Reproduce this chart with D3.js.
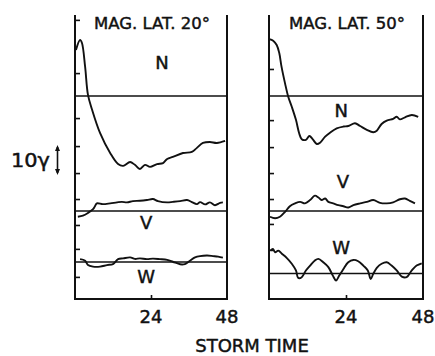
<!DOCTYPE html>
<html><head><meta charset="utf-8">
<script src="https://cdn.jsdelivr.net/npm/d3@7"></script>
<style>body{margin:0;background:#fff}svg{display:block}text{font-family:"DejaVu Sans",sans-serif;fill:#111;stroke:#111;stroke-width:0.45px}</style>
</head><body><svg id="c" width="435" height="356"></svg>
<script>
// storm time (hours) and deviation from the component's zero line (gamma)
const titles = ["MAG. LAT. 20°", "MAG. LAT. 50°"];
const components = ["N", "V", "W"];
const timeTicks = [24, 48];
const leftN = [[0.3,17.9],[1.6,21.8],[2.2,20.6],[3.2,11.3],[4.1,0.4],[5.4,-5.4],[7.9,-14.4],[11.1,-22.2],[13.6,-26.5],[15.2,-27.2],[17.4,-25.7],[18.9,-26.8],[20.5,-28.4],[22.1,-26.8],[23.7,-27.6],[25.9,-26.5],[27.8,-26.1],[29.1,-24.5],[30.9,-23.7],[34.1,-22.2],[36.9,-21.8],[38.5,-20.2],[40.4,-18.3],[42.6,-17.9],[44.8,-18.3],[47.4,-17.5]];
const leftV = [[0.9,-2.2],[2.5,-1.8],[4.1,-0.7],[5.7,0.8],[6.3,1.9],[6.9,3.0],[8.8,2.7],[11.1,3.0],[13.3,3.4],[14.8,3.6],[16.4,3.4],[18.3,3.9],[20.5,4.0],[22.7,4.3],[24.6,4.7],[26.2,3.9],[29.1,3.4],[30.9,3.6],[33.2,3.9],[35.4,4.3],[36.9,3.5],[38.5,2.7],[39.5,3.5],[41.1,2.6],[42.6,3.4],[44.2,2.3],[45.8,3.2],[46.7,3.4]];
const leftW = [[1.6,1.1],[3.2,0.5],[4.1,-1.2],[5.7,-1.8],[7.9,-1.8],[10.1,-1.2],[12.0,-0.8],[13.6,1.1],[15.2,1.4],[17.4,1.8],[18.9,1.2],[20.5,1.4],[22.7,1.1],[24.6,1.3],[26.8,1.1],[29.1,0.8],[30.9,0.1],[33.2,-0.9],[34.7,-0.8],[36.3,0.5],[37.9,1.8],[39.5,2.3],[41.7,2.5],[43.6,2.3],[45.2,2.1],[46.7,1.7]];
const rightN = [[0.1,22.1],[1.3,21.5],[2.4,19.8],[3.2,16.7],[3.9,11.4],[5.0,4.9],[6.0,-0.3],[7.1,-4.2],[8.4,-9.3],[9.4,-14.5],[10.2,-16.8],[11.5,-17.1],[12.6,-15.6],[13.6,-16.8],[14.9,-18.7],[15.9,-18.2],[17.5,-15.8],[19.0,-14.3],[21.1,-12.6],[23.2,-11.9],[24.7,-11.7],[26.8,-10.6],[28.4,-11.7],[30.5,-13.2],[32.5,-14.1],[33.6,-13.5],[35.1,-10.9],[36.7,-9.6],[38.7,-8.9],[39.8,-8.1],[40.8,-9.1],[42.4,-8.3],[44.5,-7.4],[46.5,-8.1]];
const rightV = [[0.3,-2.2],[1.9,-2.8],[3.4,-2.2],[5.0,-0.3],[6.5,1.9],[8.1,3.0],[9.7,3.6],[11.2,3.0],[12.8,4.3],[14.3,6.0],[15.4,5.3],[16.4,4.3],[17.5,4.9],[18.5,3.6],[20.0,3.0],[21.6,2.3],[23.2,1.9],[24.7,1.4],[26.3,2.3],[28.4,3.0],[30.5,3.6],[32.5,4.3],[34.6,3.2],[36.7,3.0],[38.7,3.4],[40.8,4.6],[42.4,4.9],[43.9,4.0],[45.5,3.0]];
const rightW = [[0.5,8.9],[1.2,9.6],[1.9,8.3],[2.9,8.9],[4.0,7.7],[5.5,6.1],[7.1,3.8],[8.4,1.2],[9.1,-1.7],[10.2,-1.4],[11.5,1.2],[12.8,3.1],[14.3,5.1],[15.4,5.7],[16.9,4.4],[18.5,2.5],[19.9,-0.8],[20.9,-2.7],[21.9,-0.8],[23.2,1.8],[24.7,4.4],[26.3,5.3],[27.8,4.8],[29.4,3.1],[30.8,1.2],[31.7,-2.1],[32.5,-0.1],[33.6,2.2],[35.1,3.8],[36.7,4.4],[38.2,3.1],[39.8,1.2],[41.4,-1.2],[42.9,-1.4],[44.5,1.2],[46.0,3.1],[47.6,4.0]];
// zero-line levels (gamma above the frame bottom)
const leftBase = [79.0, 34.2, 14.4];
const rightBase = [79.0, 34.2, 9.9];
// tick levels on the vertical axes (gamma above the frame bottom)
const leftTicks = [108.6, 87.9, 70.4, 59.5, 49.0, 38.9, 28.8, 19.5, 8.6];
const rightTicks = [89.5, 69.6, 59.1, 49.0, 38.9, 29.2, 19.1];

const svg = d3.select("#c");
const ink = "#111";
const y = d3.scaleLinear().domain([0, 110.5]).range([299, 15]);

const panels = [
  {x0: 75, x1: 227, title: titles[0], series: [leftN, leftV, leftW], base: leftBase, ticks: leftTicks,
   labels: [[27.5, 10.5], [22.5, -6.9], [22.5, -8.1]]},
  {x0: 269, x1: 423, title: titles[1], series: [rightN, rightV, rightW], base: rightBase, ticks: rightTicks,
   labels: [[22.5, -8.0], [23, 9], [22.5, 7.6]]}
];

panels.forEach(p => {
  const x = d3.scaleLinear().domain([0, 48]).range([p.x0, p.x1]);
  const g = svg.append("g");
  // left axis with inward ticks
  const ya = g.append("g").attr("transform", `translate(${p.x0},0)`)
    .call(d3.axisLeft(y).tickValues(p.ticks).tickSize(-5).tickFormat(""));
  ya.select(".domain").remove();
  ya.selectAll("line").attr("stroke", ink).attr("stroke-width", 1.6);
  // bottom axis
  const xa = g.append("g").attr("transform", `translate(0,${y(0)})`)
    .call(d3.axisBottom(x).tickValues([24]).tickSize(-4).tickFormat(""));
  xa.select(".domain").remove();
  xa.selectAll("line").attr("stroke", ink).attr("stroke-width", 1.6);
  // frame
  g.append("path")
    .attr("d", `M${x(0)},${y(110.5)}V${y(0)}H${x(48)}V${y(110.5)}`)
    .attr("fill", "none").attr("stroke", ink).attr("stroke-width", 2);
  // tick labels
  timeTicks.forEach(t => g.append("text").attr("x", x(t)).attr("y", 323)
    .attr("text-anchor", "middle").attr("font-size", 18).text(t));
  // title
  g.append("text").attr("x", x(24) + 1).attr("y", 28.5).attr("text-anchor", "middle")
    .attr("font-size", 16.5).text(p.title);
  const line = d3.line().x(d => x(d[0])).curve(d3.curveCatmullRom.alpha(0.5));
  p.series.forEach((s, i) => {
    // zero line
    g.append("line").attr("x1", x(0)).attr("x2", x(48))
      .attr("y1", y(p.base[i])).attr("y2", y(p.base[i]))
      .attr("stroke", ink).attr("stroke-width", 1.5);
    g.append("path").datum(s)
      .attr("d", line.y(d => y(p.base[i] + d[1])))
      .attr("fill", "none").attr("stroke", ink).attr("stroke-width", 1.9)
      .attr("stroke-linejoin", "round");
    const lb = p.labels[i];
    g.append("text").attr("x", x(lb[0])).attr("y", y(p.base[i] + lb[1]))
      .attr("text-anchor", "middle").attr("font-size", 18).text(components[i]);
  });
});

// axis title
svg.append("text").attr("x", 252).attr("y", 352).attr("text-anchor", "middle")
  .attr("font-size", 18).text("STORM TIME");
// scale marker 10 gamma
svg.append("text").attr("x", 11).attr("y", 167).attr("font-size", 19)
  .attr("textLength", 39).attr("lengthAdjust", "spacingAndGlyphs").text("10γ");
const ax = 57.5, ay0 = 145, ay1 = 175;
svg.append("line").attr("x1", ax).attr("x2", ax).attr("y1", ay0 + 2).attr("y2", ay1 - 2)
  .attr("stroke", ink).attr("stroke-width", 1.6);
svg.append("path").attr("d", `M${ax},${ay0}l-2.5,6h5z M${ax},${ay1}l-2.5,-6h5z`).attr("fill", ink);
</script></body></html>
